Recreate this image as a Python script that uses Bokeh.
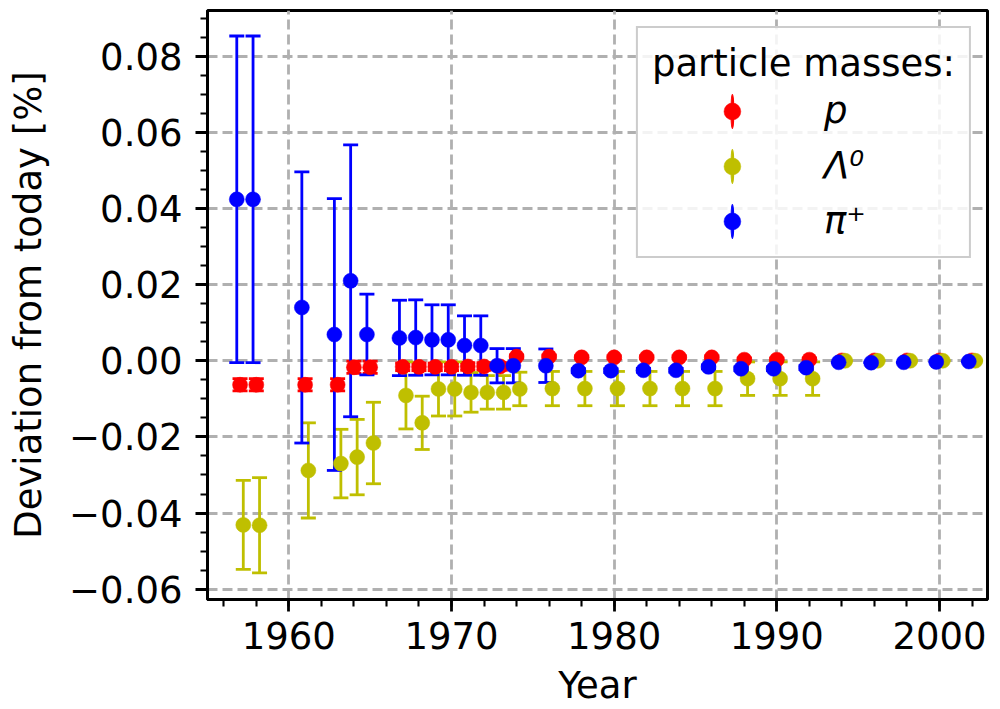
import numpy as np
from bokeh.plotting import figure
from bokeh.models import (ColumnDataSource, FixedTicker, CustomJSTickFormatter,
                          Legend, LegendItem, Range1d)
from bokeh.embed import file_html
from bokeh.resources import INLINE

# ---------------- data ----------------
years = [1957, 1958, 1961, 1963, 1964, 1965, 1967, 1968, 1969, 1970, 1971, 1972,
         1973, 1974, 1976, 1978, 1980, 1982, 1984, 1986, 1988, 1990, 1992, 1994,
         1996, 1998, 2000, 2002]

p_dev = [-0.0063, -0.0063, -0.0063, -0.0063, -0.0017, -0.0017, -0.0016, -0.0016,
         -0.0016, -0.0016, -0.0015, -0.0015, -0.0015, 0.0011, 0.0011, 0.0009,
         0.0009, 0.0009, 0.0009, 0.0009, 0.0003, 0.0003, 0.0003, 0.0001,
         0.0001, 0.0001, 0.0001, 0.0001]
p_err = [0.0016, 0.0016, 0.0016, 0.0016, 0.0016, 0.0016, 0.0010, 0.0010,
         0.0010, 0.0010, 0.0010, 0.0010, 0.0010, 0.0004, 0.0004, 0.0004,
         0.0004, 0.0004, 0.0004, 0.0004, 0.0004, 0.0004, 0.0004, 0.0,
         0.0, 0.0, 0.0, 0.0]

lam_dev = [-0.0431, -0.0432, -0.0288, -0.0270, -0.0253, -0.0216, -0.0091, -0.0163,
           -0.0074, -0.0074, -0.0083, -0.0083, -0.0083, -0.0074, -0.0073, -0.0073,
           -0.0073, -0.0073, -0.0073, -0.0073, -0.0047, -0.0047, -0.0047, 0.0,
           0.0, 0.0, 0.0, 0.0]
lam_err = [0.0117, 0.0125, 0.0125, 0.0090, 0.0099, 0.0107, 0.0088, 0.0070,
           0.0071, 0.0071, 0.0052, 0.0044, 0.0044, 0.0044, 0.0045, 0.0045,
           0.0045, 0.0045, 0.0045, 0.0045, 0.0044, 0.0044, 0.0044, 0.0,
           0.0, 0.0, 0.0, 0.0]

pi_dev = [0.0424, 0.0424, 0.0140, 0.0069, 0.0210, 0.0069, 0.0060, 0.0061,
          0.0055, 0.0055, 0.0040, 0.0040, -0.0013, -0.0013, -0.0013, -0.0026,
          -0.0026, -0.0025, -0.0025, -0.0016, -0.0021, -0.0021, -0.0018, -0.0004,
          -0.0005, -0.0004, -0.0003, -0.0002]
pi_err = [0.0429, 0.0429, 0.0356, 0.0357, 0.0357, 0.0106, 0.0099, 0.0099,
          0.0092, 0.0092, 0.0078, 0.0078, 0.0045, 0.0045, 0.0044, 0.0005,
          0.0005, 0.0005, 0.0005, 0.0005, 0.0005, 0.0005, 0.0005, 0.0,
          0.0, 0.0, 0.0, 0.0]

series_labels = ["p", "Λ⁰", "π⁺"]
series_colors = ["#ff0000", "#bfbf00", "#0000ff"]
year_shift = [0.0, 0.2, -0.2]

x_ticks = [1960, 1970, 1980, 1990, 2000]
x_minor = list(range(1956, 2003, 2))
y_ticks = [-0.06, -0.04, -0.02, 0.0, 0.02, 0.04, 0.06, 0.08]
y_minor = [round(-0.06 + 0.005 * i, 3) for i in range(31)]

FONT = "DejaVu Sans"
FS = "37px"

# ---------------- figure ----------------
p = figure(width=1000, height=709, output_backend="svg", toolbar_location=None,
           x_range=Range1d(1955.0, 2002.95), y_range=Range1d(-0.0627, 0.092),
           min_border_left=207, min_border_right=13, min_border_top=10,
           min_border_bottom=107)
p.background_fill_color = "white"
p.border_fill_color = "white"
p.outline_line_color = "black"
p.outline_line_width = 3
p.outline_line_alpha = 1

p.xaxis.ticker = FixedTicker(ticks=x_ticks, minor_ticks=x_minor)
p.yaxis.ticker = FixedTicker(ticks=y_ticks, minor_ticks=y_minor)
p.yaxis.formatter = CustomJSTickFormatter(code="""
const v = Math.abs(tick) < 1e-9 ? 0 : tick;
return v.toFixed(2).replace("-", "\u2212");
""")

for ax in (p.xaxis[0], p.yaxis[0]):
    ax.axis_line_width = 3
    ax.axis_line_color = "black"
    ax.major_tick_out = 12
    ax.major_tick_in = 0
    ax.major_tick_line_width = 2.8
    ax.minor_tick_out = 7
    ax.minor_tick_in = 0
    ax.minor_tick_line_width = 2.1
    ax.major_label_text_font = FONT
    ax.major_label_text_font_size = FS
    ax.major_label_text_color = "black"
    ax.axis_label_text_font = FONT
    ax.axis_label_text_font_size = FS
    ax.axis_label_text_font_style = "normal"
    ax.axis_label_text_color = "black"

p.xaxis.axis_label = "Year"
p.yaxis.axis_label = "Deviation from today [%]"
p.xaxis.major_label_standoff = 10
p.yaxis.major_label_standoff = 13
p.xaxis.axis_label_standoff = 12
p.yaxis.axis_label_standoff = 16

p.grid.grid_line_color = "#b0b0b0"
p.grid.grid_line_width = 2.8
p.grid.grid_line_dash = "10 5"

# ---------------- glyphs ----------------
devs = [p_dev, lam_dev, pi_dev]
errs = [p_err, lam_err, pi_err]
sources = []
for dev, err, shift in zip(devs, errs, year_shift):
    d = np.array(dev)
    e = np.array(err)
    sources.append(ColumnDataSource(dict(
        x=np.array(years, dtype=float) + shift, y=d, lo=d - e, hi=d + e,
        off=np.full(len(years), np.nan))))

# error bars (below all markers)
for src, c in zip(sources, series_colors):
    p.segment(x0="x", y0="lo", x1="x", y1="hi", source=src,
              line_color=c, line_width=2.8)
    p.scatter(x="x", y="lo", source=src, marker="dash", size=15,
              line_color=c, line_width=2.8)
    p.scatter(x="x", y="hi", source=src, marker="dash", size=15,
              line_color=c, line_width=2.8)

items = []
for src, c, lab in zip(sources, series_colors, series_labels):
    # legend-only error-bar swatch: a very thin, tall ellipse (y is NaN, so it
    # is never drawn inside the plot, only in the legend)
    leg_bar = p.ellipse(x="x", y="off", source=src, width=3.2, height=40,
                        width_units="screen", height_units="screen",
                        fill_color=c, line_color=c, line_width=1.2)
    dots = p.scatter(x="x", y="y", source=src, marker="circle", size=15,
                     fill_color=c, line_color=c, line_width=0.5)
    items.append(LegendItem(label=lab, renderers=[leg_bar, dots]))

legend = Legend(items=items, location="top_right", title="particle masses:")
legend.margin = 16
legend.padding = 14
legend.spacing = 12
legend.glyph_width = 160
legend.glyph_height = 42
legend.label_standoff = 12
legend.title_standoff = 4
legend.label_text_font = FONT
legend.label_text_font_size = FS
legend.label_text_font_style = "italic"
legend.label_text_color = "black"
legend.title_text_font = FONT
legend.title_text_font_size = FS
legend.title_text_font_style = "normal"
legend.title_text_color = "black"
legend.border_line_color = "#cccccc"
legend.border_line_width = 2
legend.border_line_alpha = 1
legend.background_fill_color = "white"
legend.background_fill_alpha = 0.85
p.add_layout(legend)

open("out.html", "w").write(file_html(p, INLINE))
